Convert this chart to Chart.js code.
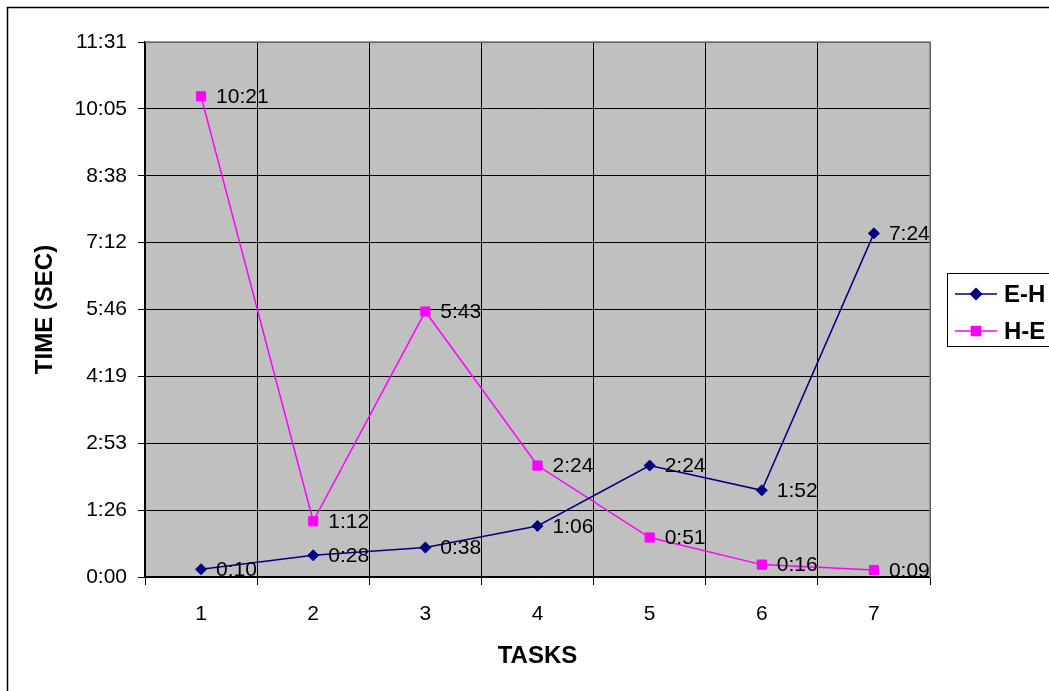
<!DOCTYPE html>
<html>
<head>
<meta charset="utf-8">
<script src="https://cdn.jsdelivr.net/npm/chart.js@4.4.1/dist/chart.umd.min.js"></script>
<style>
  html, body { margin: 0; padding: 0; background: #fff; }
  #wrap { position: relative; width: 1049px; height: 691px; overflow: hidden; }
</style>
</head>
<body>
<div id="wrap"><canvas id="chart" width="1049" height="691"></canvas></div>
<script>
'use strict';

/* Data (seconds) */
const tasks      = ['1', '2', '3', '4', '5', '6', '7'];
const ehSeconds  = [10, 28, 38, 66, 144, 112, 444];
const heSeconds  = [621, 72, 343, 144, 51, 16, 9];
const yTickSecs  = [0, 86.4, 172.8, 259.2, 345.6, 432, 518.4, 604.8, 691.2];

const FONT = '"Liberation Sans", Arial, sans-serif';
const NAVY = '#000080';
const MAGENTA = '#FF00FF';

/* m:ss formatter */
const fmtTime = v => {
  const s = Math.round(v);
  const m = Math.floor(s / 60);
  const r = s % 60;
  return m + ':' + (r < 10 ? '0' : '') + r;
};

/* Gray plot area, outer frame, plot border */
const backdrop = {
  id: 'backdrop',
  beforeDraw(chart) {
    const { ctx, chartArea: a } = chart;
    ctx.save();
    ctx.fillStyle = '#fff';
    ctx.fillRect(0, 0, chart.width, chart.height);
    ctx.fillStyle = '#C0C0C0';
    ctx.fillRect(a.left, a.top, a.right - a.left, a.bottom - a.top);
    ctx.strokeStyle = '#000';
    ctx.lineWidth = 1.5;
    ctx.strokeRect(7.5, 7.5, chart.width + 20, chart.height + 20);
    ctx.restore();
  },
  beforeDatasetsDraw(chart) {
    const { ctx, chartArea: a } = chart;
    ctx.save();
    ctx.strokeStyle = '#808080';
    ctx.lineWidth = 1.5;
    ctx.beginPath();
    ctx.moveTo(a.left, a.top);
    ctx.lineTo(a.right, a.top);
    ctx.lineTo(a.right, a.bottom);
    ctx.stroke();
    ctx.restore();
  },
};

/* Value labels right of each point */
const pointLabels = {
  id: 'pointLabels',
  afterDatasetsDraw(chart) {
    const { ctx } = chart;
    ctx.save();
    ctx.font = '21px ' + FONT;
    ctx.fillStyle = '#000';
    ctx.textAlign = 'left';
    ctx.textBaseline = 'middle';
    chart.data.datasets.forEach((ds, i) => {
      chart.getDatasetMeta(i).data.forEach((pt, j) => {
        ctx.fillText(fmtTime(ds.data[j]), pt.x + 15, pt.y + 1);
      });
    });
    ctx.restore();
  },
};

/* Excel-like legend box */
const boxLegend = {
  id: 'boxLegend',
  afterDraw(chart) {
    const { ctx } = chart;
    const left = 947, top = 273, bottom = 346;
    ctx.save();
    ctx.fillStyle = '#fff';
    ctx.fillRect(left, top, 200, bottom - top);
    ctx.strokeStyle = '#000';
    ctx.lineWidth = 1;
    ctx.strokeRect(left + 0.5, top + 0.5, 200, bottom - top);
    const rows = [
      { y: 294, ds: chart.data.datasets[0] },
      { y: 331, ds: chart.data.datasets[1] },
    ];
    rows.forEach(r => {
      ctx.strokeStyle = r.ds.borderColor;
      ctx.lineWidth = 1.5;
      ctx.beginPath();
      ctx.moveTo(955, r.y);
      ctx.lineTo(997, r.y);
      ctx.stroke();
      ctx.fillStyle = r.ds.borderColor;
      Chart.helpers.drawPoint(ctx, {
        pointStyle: r.ds.pointStyle,
        radius: r.ds.pointRadius,
        borderWidth: 1,
      }, 976, r.y);
      ctx.fill();
      ctx.fillStyle = '#000';
      ctx.font = 'bold 24px ' + FONT;
      ctx.textBaseline = 'middle';
      ctx.textAlign = 'left';
      ctx.fillText(r.ds.label, 1004, r.y + 1);
    });
    ctx.restore();
  },
};

new Chart(document.getElementById('chart'), {
  type: 'line',
  data: {
    labels: tasks,
    datasets: [
      {
        label: 'E-H',
        data: ehSeconds,
        borderColor: NAVY,
        backgroundColor: NAVY,
        borderWidth: 1.5,
        pointStyle: 'rectRot',
        pointRadius: 5.5,
        pointBorderWidth: 1,
        tension: 0,
      },
      {
        label: 'H-E',
        data: heSeconds,
        borderColor: MAGENTA,
        backgroundColor: MAGENTA,
        borderWidth: 1.5,
        pointStyle: 'rect',
        pointRadius: 6.5,
        pointBorderWidth: 1,
        tension: 0,
      },
    ],
  },
  options: {
    responsive: false,
    animation: false,
    layout: { padding: { top: 42, right: 119, left: 0, bottom: 0 } },
    plugins: {
      legend: { display: false },
      tooltip: { enabled: false },
    },
    scales: {
      x: {
        offset: true,
        afterFit: s => { s.height = 114; },
        grid: { offset: true, color: '#000', lineWidth: 1, tickLength: 8, tickColor: '#000' },
        border: { display: true, color: '#000', width: 1.5 },
        ticks: { color: '#000', padding: 17, font: { family: FONT, size: 21 } },
        title: {
          display: true,
          text: 'TASKS',
          color: '#000',
          font: { family: FONT, size: 24, weight: 'bold' },
          padding: { top: 0, bottom: 20 },
        },
      },
      y: {
        min: 0,
        max: 691.2,
        afterFit: s => { s.width = 145; },
        afterBuildTicks: s => { s.ticks = yTickSecs.map(v => ({ value: v })); },
        grid: { color: '#000', lineWidth: 1, tickLength: 7, tickColor: '#000' },
        border: { display: true, color: '#000', width: 1.5 },
        ticks: {
          color: '#000',
          padding: 11,
          font: { family: FONT, size: 21 },
          callback: v => fmtTime(v),
        },
        title: {
          display: true,
          text: 'TIME (SEC)',
          color: '#000',
          font: { family: FONT, size: 24, weight: 'bold' },
          padding: { top: 31, bottom: 0 },
        },
      },
    },
  },
  plugins: [backdrop, pointLabels, boxLegend],
});
</script>
</body>
</html>
